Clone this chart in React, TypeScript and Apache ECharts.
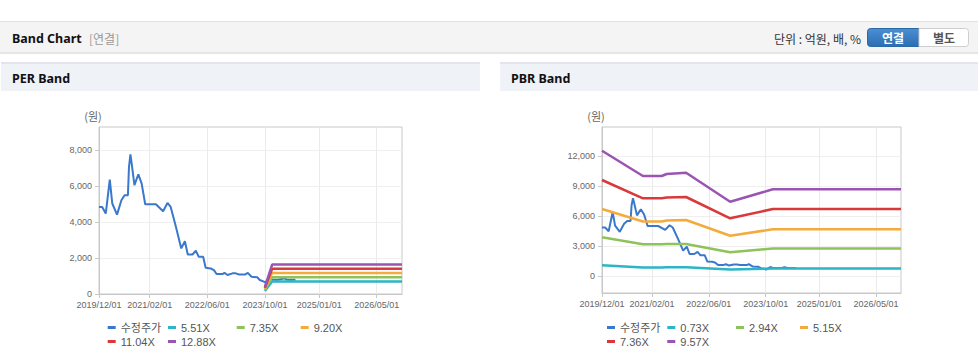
import React, { useEffect, useRef } from 'react';
import * as echarts from 'echarts';

// ---------- data ----------
const xStart = '2019/12/01';
const xEnd = '2026/12/01';
const xLabelDates = ['2019/12/01', '2021/02/01', '2022/06/01', '2023/10/01', '2025/01/01', '2026/05/01'];

const perYTicks = [0, 2000, 4000, 6000, 8000];
const pbrYTicks = [0, 3000, 6000, 9000, 12000];

const priceName = '수정주가';
const priceDates = [
  '2019/12/01', '2019/12/28', '2020/01/27', '2020/03/01', '2020/03/22', '2020/05/01', '2020/06/07',
  '2020/07/04', '2020/08/01', '2020/08/10', '2020/08/22', '2020/09/01', '2020/09/25', '2020/10/28',
  '2020/11/25', '2020/12/25', '2021/03/25', '2021/05/25', '2021/07/01', '2021/07/28', '2021/09/10',
  '2021/10/25', '2021/11/25', '2021/12/19', '2022/01/28', '2022/02/25', '2022/03/22', '2022/04/28',
  '2022/05/19', '2022/07/01', '2022/07/28', '2022/08/19', '2022/10/07', '2022/10/25', '2022/11/19',
  '2023/01/01', '2023/01/28', '2023/02/25', '2023/04/19', '2023/05/10', '2023/06/10', '2023/07/28',
  '2023/08/19', '2023/09/22', '2023/10/05', '2023/11/10', '2023/12/05', '2024/01/15', '2024/02/20',
  '2024/03/10', '2024/04/05', '2024/06/15',
];
const priceValues = [
  4850, 4850, 4480, 6370, 5040, 4420, 5220,
  5500, 5500, 7070, 7780, 7300, 6060, 6670,
  6150, 5000, 5000, 4610, 5070, 4850, 3740,
  2540, 2940, 2200, 2200, 2410, 2070, 2070,
  1460, 1420, 1330, 1110, 1110, 1180, 1060,
  1150, 1150, 1090, 1090, 1180, 960, 930,
  780, 690, 640, 900, 790, 800, 830,
  870, 800, 800,
];

// PER bands
const perBandNames = ['5.51X', '7.35X', '9.20X', '11.04X', '12.88X'];
const perBandDates = ['2023/10/01', '2023/12/01', '2026/12/01'];
const perBand551 = [171, 702, 702];
const perBand735 = [228, 937, 937];
const perBand920 = [285, 1173, 1173];
const perBand1104 = [342, 1408, 1408];
const perBand1288 = [399, 1642, 1642];

// PBR bands
const pbrBandNames = ['0.73X', '2.94X', '5.15X', '7.36X', '9.57X'];
const pbrBandDates = ['2019/12/01', '2020/11/15', '2021/04/25', '2021/06/06', '2021/11/19', '2022/12/01', '2023/12/01', '2026/12/01'];
const pbrBand073 = [1080, 860, 860, 870, 880, 640, 760, 760];
const pbrBand294 = [3870, 3180, 3180, 3200, 3200, 2370, 2760, 2760];
const pbrBand515 = [6700, 5450, 5450, 5550, 5600, 4030, 4670, 4670];
const pbrBand736 = [9600, 7770, 7770, 7850, 7900, 5770, 6700, 6700];
const pbrBand957 = [12530, 10000, 10000, 10200, 10330, 7430, 8670, 8670];

// ---------- styles ----------
const COLORS = ['#3a78cc', '#2bb5c6', '#8fc25a', '#f4ab3c', '#d9393b', '#9a55b2'];
const LATIN = 'Liberation Sans, Noto Sans CJK KR, sans-serif';
const KR = 'Noto Sans CJK KR, Noto Sans, sans-serif';
const AXIS_COLOR = '#c8c8c8';

const toTs = (s: string) => {
  const [y, m, d] = s.split('/').map(Number);
  return new Date(y, m - 1, d).getTime();
};
const fmtDate = (v: number) => {
  const d = new Date(v);
  return `${d.getFullYear()}/${String(d.getMonth() + 1).padStart(2, '0')}/${String(d.getDate()).padStart(2, '0')}`;
};
const pairs = (dates: string[], vals: number[]) => dates.map((d, i) => [toTs(d), vals[i]]);

function makeX(gridIndex: number) {
  const ticks = xLabelDates.map(toTs);
  return {
    type: 'value',
    gridIndex,
    min: toTs(xStart),
    max: toTs(xEnd),
    scale: true,
    axisLine: { show: true, onZero: false, lineStyle: { color: AXIS_COLOR } },
    axisTick: { show: true, length: 4, customValues: ticks, lineStyle: { color: AXIS_COLOR } },
    axisLabel: {
      customValues: ticks,
      formatter: (v: number) => fmtDate(v),
      fontSize: 9,
      color: '#666',
      margin: 6,
      fontFamily: LATIN,
      hideOverlap: false,
    },
    splitLine: { show: true, lineStyle: { color: '#ebebeb' } },
  };
}

function makeY(gridIndex: number, min: number, max: number, ticks: number[]) {
  return {
    type: 'value',
    gridIndex,
    min,
    max,
    name: '(원)',
    nameLocation: 'end',
    nameGap: 6,
    nameTextStyle: { color: '#666', fontSize: 11, fontFamily: KR, padding: [0, 12, 0, 0] },
    axisLine: { show: true, onZero: false, lineStyle: { color: AXIS_COLOR } },
    axisTick: { show: true, length: 4, customValues: ticks, lineStyle: { color: AXIS_COLOR } },
    axisLabel: {
      customValues: ticks,
      formatter: (v: number) => v.toLocaleString('en-US'),
      fontSize: 9,
      color: '#666',
      margin: 7,
      fontFamily: LATIN,
    },
    splitLine: { show: true, lineStyle: { color: '#efefef' } },
  };
}

function lineSeries(name: string, data: any[], color: string, xi: number, width = 2) {
  return {
    type: 'line',
    name,
    xAxisIndex: xi,
    yAxisIndex: xi,
    data,
    showSymbol: false,
    symbol: 'none',
    color,
    lineStyle: { color, width },
    emphasis: { disabled: true },
  };
}

function legendItem(name: string, left: number, top: number) {
  return {
    data: [name],
    left,
    top,
    padding: 0,
    itemWidth: 8,
    itemHeight: 3,
    icon: 'rect',
    selectedMode: false,
    textStyle: { fontSize: 11, color: '#555', fontFamily: LATIN },
  };
}

export default function App() {
  const ref = useRef<HTMLDivElement>(null);

  useEffect(() => {
    if (!ref.current) return;
    const chart = echarts.init(ref.current, undefined, { renderer: 'svg' });

    const perBands = [perBand551, perBand735, perBand920, perBand1104, perBand1288];
    const pbrBands = [pbrBand073, pbrBand294, pbrBand515, pbrBand736, pbrBand957];

    const series: any[] = [];
    series.push(lineSeries(priceName, pairs(priceDates, priceValues), COLORS[0], 0));
    perBands.forEach((b, i) => series.push(lineSeries(perBandNames[i], pairs(perBandDates, b), COLORS[i + 1], 0, 2.5)));
    series.push(lineSeries(priceName, pairs(priceDates, priceValues), COLORS[0], 1));
    pbrBands.forEach((b, i) => series.push(lineSeries(pbrBandNames[i], pairs(pbrBandDates, b), COLORS[i + 1], 1, 2.5)));

    const colX = [0, 60.3, 129, 193];
    const legends: any[] = [];
    const perNames = [priceName, ...perBandNames];
    const pbrNames = [priceName, ...pbrBandNames];
    perNames.forEach((n, i) => {
      const row = i < 4 ? 0 : 1;
      const col = i < 4 ? i : i - 4;
      legends.push(legendItem(n, 107.7 + colX[col], row === 0 ? 322 : 336));
    });
    pbrNames.forEach((n, i) => {
      const row = i < 4 ? 0 : 1;
      const col = i < 4 ? i : i - 4;
      legends.push(legendItem(n, 607 + colX[col], row === 0 ? 322 : 336));
    });

    const graphic: any[] = [
      { type: 'rect', shape: { x: 0, y: 21, width: 978, height: 1.5 }, style: { fill: '#e2e2e2' }, silent: true },
      { type: 'rect', shape: { x: 0, y: 52, width: 978, height: 2 }, style: { fill: '#e6e6e6' }, silent: true },
      { type: 'rect', shape: { x: 0, y: 22.5, width: 978, height: 29.5 }, style: { fill: '#f4f4f4' }, silent: true },
      { type: 'text', x: 12, y: 38.5, style: { text: 'Band Chart', fontSize: 12.5, fontWeight: 'bold', fill: '#111', fontFamily: 'Noto Sans, sans-serif', verticalAlign: 'middle' } },
      { type: 'text', x: 89, y: 38.5, style: { text: '[연결]', fontSize: 12, fill: '#999', fontFamily: KR, verticalAlign: 'middle' } },
      { type: 'text', x: 861, y: 38.5, style: { text: '단위 : 억원, 배, %', fontSize: 12, fill: '#333', fontFamily: KR, align: 'right', verticalAlign: 'middle' } },
      {
        type: 'rect',
        shape: { x: 867.5, y: 28.5, width: 51.5, height: 18, r: [3, 0, 0, 3] },
        style: {
          fill: new echarts.graphic.LinearGradient(0, 0, 0, 1, [
            { offset: 0, color: '#4b8fd3' },
            { offset: 1, color: '#2c6db2' },
          ]),
          stroke: '#2d68a6',
          lineWidth: 1,
        },
      },
      { type: 'text', x: 893, y: 37.5, style: { text: '연결', fontSize: 12, fontWeight: 'bold', fill: '#fff', fontFamily: KR, align: 'center', verticalAlign: 'middle' } },
      {
        type: 'rect',
        shape: { x: 919, y: 28.5, width: 49.5, height: 18, r: [0, 3, 3, 0] },
        style: { fill: '#fff', stroke: '#cfcfcf', lineWidth: 1 },
      },
      { type: 'text', x: 944, y: 37.5, style: { text: '별도', fontSize: 12, fontWeight: 'bold', fill: '#555', fontFamily: KR, align: 'center', verticalAlign: 'middle' } },
      { type: 'rect', shape: { x: 1, y: 62, width: 479, height: 29 }, style: { fill: '#eff2f7' }, silent: true },
      { type: 'rect', shape: { x: 1, y: 62, width: 479, height: 2 }, style: { fill: '#e2e6ec' }, silent: true },
      { type: 'text', x: 12, y: 78.5, style: { text: 'PER Band', fontSize: 12.5, fontWeight: 'bold', fill: '#111', fontFamily: 'Noto Sans, sans-serif', verticalAlign: 'middle' } },
      { type: 'rect', shape: { x: 500, y: 62, width: 478, height: 29 }, style: { fill: '#eff2f7' }, silent: true },
      { type: 'rect', shape: { x: 500, y: 62, width: 478, height: 2 }, style: { fill: '#e2e6ec' }, silent: true },
      { type: 'text', x: 511, y: 78.5, style: { text: 'PBR Band', fontSize: 12.5, fontWeight: 'bold', fill: '#111', fontFamily: 'Noto Sans, sans-serif', verticalAlign: 'middle' } },
    ];

    chart.setOption({
      animation: false,
      backgroundColor: '#ffffff',
      graphic,
      grid: [
        { left: 99, top: 127, width: 303, height: 167, show: true, borderColor: AXIS_COLOR, borderWidth: 1 },
        { left: 602, top: 127, width: 299, height: 166, show: true, borderColor: AXIS_COLOR, borderWidth: 1 },
      ],
      xAxis: [makeX(0), makeX(1)],
      yAxis: [makeY(0, 0, 9300, perYTicks), makeY(1, -1700, 14900, pbrYTicks)],
      legend: legends,
      series,
    });

    return () => chart.dispose();
  }, []);

  return <div ref={ref} style={{ position: 'absolute', left: 0, top: 0, width: 978, height: 361 }} />;
}
